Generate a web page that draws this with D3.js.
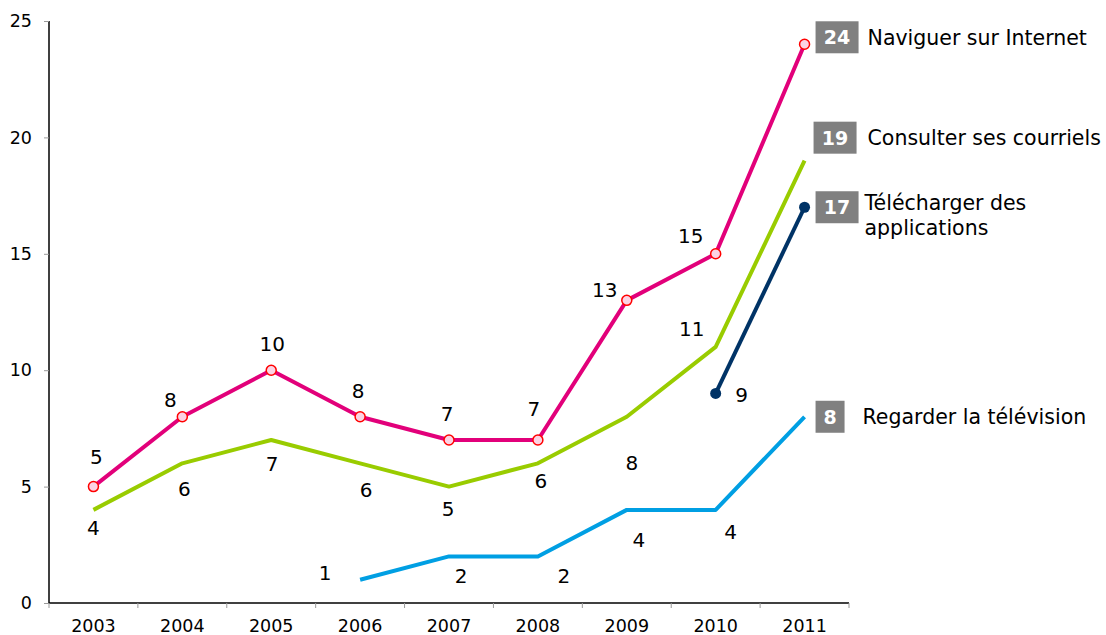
<!DOCTYPE html>
<html>
<head>
<meta charset="utf-8">
<title>Usages mobiles</title>
<script src="https://d3js.org/d3.v7.min.js"></script>
<style>
body { margin: 0; background: #fff; font-family: "DejaVu Sans", Verdana, sans-serif; }
.axis path, .axis line { fill: none; }
.axis text { font-size: 17.5px; fill: #000; font-family: "DejaVu Sans", Verdana, sans-serif; }
.lbl { font-size: 20px; fill: #000; }
.name { font-size: 20.5px; fill: #000; }
.box-txt { font-size: 19px; font-weight: bold; fill: #fff; }
</style>
</head>
<body>
<script>
// data
var years = ["2003", "2004", "2005", "2006", "2007", "2008", "2009", "2010", "2011"];
var internet = [5, 8, 10, 8, 7, 7, 13, 15, 24];
var courriels = [4, 6, 7, 6, 5, 6, 8, 11, 19];
var applis = [null, null, null, null, null, null, null, 9, 17];
var tele = [null, null, null, 1, 2, 2, 4, 4, 8];
var names = ["Naviguer sur Internet", "Consulter ses courriels", "Télécharger des|applications", "Regarder la télévision"];
var yTicks = [0, 5, 10, 15, 20, 25];

// label offsets (dx, dy) per point, last point gets the grey box
var offInternet = [[3,-30],[-12,-17],[1,-26],[-2,-26],[-2,-26],[-4,-31],[-22,-11],[-25,-18]];
var offCourriels = [[0,18],[2,25],[1,24],[6,26],[-1,22],[3,17],[5,46],[-24,-18]];
var offApplis = [[26,1]];
var offTele = [[-35,-7],[12,19],[26,19],[12,30],[15,22]];

var margin = {left: 49, top: 21},
    w = 800, h = 582;

var svg = d3.select("body").append("svg")
  .attr("width", 1106).attr("height", 635);
var g = svg.append("g").attr("transform", "translate(" + margin.left + "," + margin.top + ")");

var x = d3.scaleBand().domain(years).range([0, w]);
var y = d3.scaleLinear().domain([0, 25]).range([h, 0]);
var cx = function(i) { return x(years[i]) + x.bandwidth() / 2; };

// axes
var yAxis = d3.axisLeft(y).tickValues(yTicks).tickSize(5).tickPadding(12);
var ya = g.append("g").attr("class", "axis").call(yAxis);
ya.select(".domain").attr("stroke", "#000").attr("stroke-width", 1.5).attr("d", "M0," + h + "V0");
ya.selectAll(".tick line").attr("stroke", "#999");

var xAxis = d3.axisBottom(x).tickSize(0).tickPadding(17);
var xa = g.append("g").attr("class", "axis").attr("transform", "translate(0," + h + ")").call(xAxis);
xa.select(".domain").attr("stroke", "#000").attr("stroke-width", 1.5).attr("d", "M0,0H" + w);
// tick marks on band edges
xa.selectAll(".edge").data(d3.range(years.length + 1)).enter().append("line")
  .attr("class", "edge")
  .attr("x1", function(i) { return i * x.step(); })
  .attr("x2", function(i) { return i * x.step(); })
  .attr("y1", 0).attr("y2", 5)
  .attr("stroke", "#999").attr("stroke-width", 1);

var series = [
  {vals: internet, color: "#e2007a", off: offInternet, marker: "open", box: -7, bdx: 11, ndx: 63},
  {vals: courriels, color: "#99cc00", off: offCourriels, marker: null, box: -23, bdx: 9, ndx: 63},
  {vals: applis, color: "#003366", off: offApplis, marker: "filled", box: 0, bdx: 11, ndx: 60},
  {vals: tele, color: "#009fe3", off: offTele, marker: null, box: 0, bdx: 11, ndx: 58}
];

var line = d3.line()
  .defined(function(d) { return d != null; })
  .x(function(d, i) { return cx(i); })
  .y(function(d) { return y(d); });

series.forEach(function(s, k) {
  g.append("path").datum(s.vals)
    .attr("fill", "none").attr("stroke", s.color).attr("stroke-width", 4)
    .attr("stroke-linejoin", "round")
    .attr("d", line);

  var pts = s.vals.map(function(v, i) { return {v: v, i: i}; }).filter(function(p) { return p.v != null; });

  if (s.marker == "open") {
    g.selectAll(".m" + k).data(pts).enter().append("circle")
      .attr("cx", function(p) { return cx(p.i); }).attr("cy", function(p) { return y(p.v); })
      .attr("r", 5).attr("fill", "#fbd3e4").attr("stroke", "#ff0000").attr("stroke-width", 1.5);
  } else if (s.marker == "filled") {
    g.selectAll(".m" + k).data(pts).enter().append("circle")
      .attr("cx", function(p) { return cx(p.i); }).attr("cy", function(p) { return y(p.v); })
      .attr("r", 5.5).attr("fill", s.color);
  }

  // value labels (all but the last)
  pts.slice(0, -1).forEach(function(p, j) {
    var o = s.off[j];
    g.append("text").attr("class", "lbl")
      .attr("x", cx(p.i) + o[0]).attr("y", y(p.v) + o[1])
      .attr("text-anchor", "middle").attr("dy", "0.36em")
      .text(p.v);
  });

  // grey box with last value + series name
  var last = pts[pts.length - 1];
  var by = y(last.v) + s.box;
  var txt = String(last.v);
  var bw = txt.length > 1 ? 43 : 29;
  var bx = cx(last.i) + s.bdx;
  g.append("rect").attr("x", bx).attr("y", by - 16).attr("width", bw).attr("height", 32)
    .attr("fill", "#808080");
  g.append("text").attr("class", "box-txt")
    .attr("x", bx + bw / 2).attr("y", by).attr("dy", "0.36em")
    .attr("text-anchor", "middle").text(txt);
  var parts = names[k].split("|");
  var nt = g.append("text").attr("class", "name")
    .attr("y", by + (parts.length > 1 ? -5 : 0));
  parts.forEach(function(t, j) {
    nt.append("tspan").attr("x", cx(last.i) + s.ndx)
      .attr("dy", j == 0 ? "0.36em" : "1.22em").text(t);
  });
});
</script>
</body>
</html>
